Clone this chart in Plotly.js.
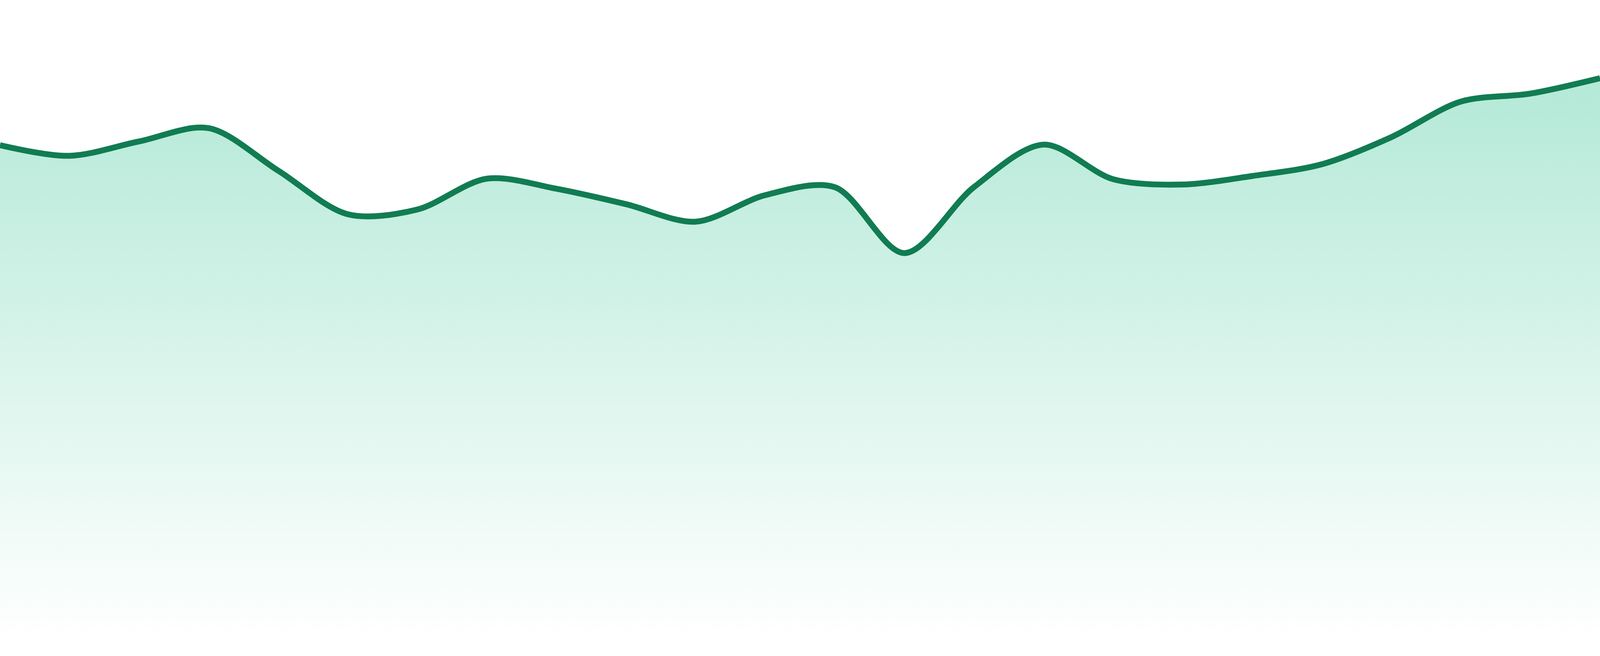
<!DOCTYPE html>
<html>
<head>
<meta charset="utf-8">
<script src="https://cdn.plot.ly/plotly-3.0.1.min.js"></script>
<style>
  html, body { margin: 0; padding: 0; background: #ffffff; overflow: hidden; }
  #chart { width: 100vw; height: 100vh; }
</style>
</head>
<body>
<div id="chart"></div>
<script>
// one point per period
var periods = Array.from({length: 24}, (_, i) => i);
var values = [
  92.7, 90.7, 93.4, 95.9, 87.9, 79.7, 80.6, 86.4,
  84.5, 81.6, 78.3, 83.3, 84.8, 72.4, 84.8, 92.8,
  86.3, 85.3, 86.9, 89.1, 94.2, 100.9, 102.4, 105.3
];
var yMax = 120;

// size everything from the real viewport so the picture keeps its proportions
var W = document.documentElement.clientWidth || window.innerWidth;
var H = document.documentElement.clientHeight || window.innerHeight;
var k = H / 1680;

var trace = {
  x: periods,
  y: values,
  type: 'scatter',
  mode: 'lines',
  fill: 'tozeroy',
  fillgradient: {
    type: 'vertical',
    start: 0,
    stop: yMax,
    colorscale: [[0, 'rgba(16,185,129,0)'], [1, 'rgba(16,185,129,0.36)']]
  },
  line: {color: '#117c52', width: 15 * k, shape: 'spline', smoothing: 0.9},
  hoverinfo: 'skip'
};

var layout = {
  width: W,
  height: H,
  margin: {l: 0, r: 0, t: 0, b: 46 * k, pad: 0},
  paper_bgcolor: '#ffffff',
  plot_bgcolor: '#ffffff',
  showlegend: false,
  xaxis: {range: [0, 23], visible: false, fixedrange: true},
  yaxis: {range: [0, yMax], visible: false, fixedrange: true}
};

Plotly.newPlot('chart', [trace], layout, {displayModeBar: false, staticPlot: true});
</script>
</body>
</html>
